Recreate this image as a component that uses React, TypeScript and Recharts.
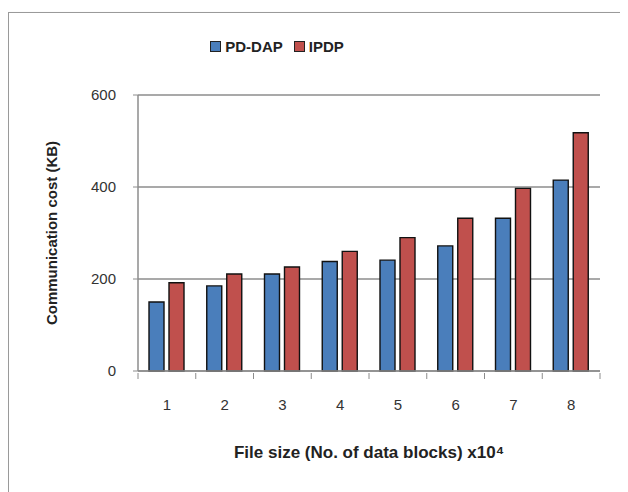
import { Bar, BarChart, CartesianGrid, Label, Legend, XAxis, YAxis } from "recharts";

const fileSizes = ["1", "2", "3", "4", "5", "6", "7", "8"];
const pdDap = [150, 185, 211, 238, 241, 272, 332, 415];
const ipdp = [192, 211, 226, 260, 290, 332, 397, 518];
const yTicks = [0, 200, 400, 600];
const seriesOrder = ["PD-DAP", "IPDP"];

const data = fileSizes.map((name, i) => ({
  name,
  pdDap: pdDap[i],
  ipdp: ipdp[i],
}));

const BLUE = "#4a7ebb";
const RED = "#c0504d";
const AXIS = "#8c8c8c";
const FONT = "'Liberation Sans', Arial, sans-serif";

const CHART_W = 620;
const MARGIN_RIGHT = 28;
const Y_WIDTH = 130;
const BAND = (CHART_W - Y_WIDTH - MARGIN_RIGHT) / fileSizes.length;

function LegendBox({ payload }: any) {
  const items = [...(payload || [])].sort(
    (a: any, b: any) => seriesOrder.indexOf(a.value) - seriesOrder.indexOf(b.value)
  );
  return (
    <div
      style={{
        display: "flex",
        justifyContent: "center",
        gap: 11,
        fontFamily: FONT,
        fontWeight: 700,
        fontSize: 15,
        color: "#222",
      }}
    >
      {items.map((p: any) => (
        <div key={p.value} style={{ display: "flex", alignItems: "center", gap: 4 }}>
          <span
            style={{
              display: "inline-block",
              width: 9,
              height: 9,
              background: p.color,
              border: "1px solid #222",
            }}
          />
          <span>{p.value}</span>
        </div>
      ))}
    </div>
  );
}

function CategoryTick({ x, y, payload, index }: any) {
  const left = x - BAND / 2;
  const right = x + BAND / 2;
  return (
    <g>
      <line x1={left} x2={left} y1={y} y2={y + 6} stroke={AXIS} />
      {index === fileSizes.length - 1 && (
        <line x1={right} x2={right} y1={y} y2={y + 6} stroke={AXIS} />
      )}
      <text
        x={x}
        y={y + 37}
        textAnchor="middle"
        fill="#333"
        fontSize={15}
        fontFamily={FONT}
      >
        {payload.value}
      </text>
    </g>
  );
}

export default function App() {
  return (
    <div style={{ width: 620, height: 484, overflow: "hidden", position: "relative" }}>
      <div
        style={{
          position: "absolute",
          left: 0,
          top: 4,
          width: 660,
          height: 520,
          border: "1px solid #9a9a9a",
          boxShadow: "1px 1px 2px #ccc",
        }}
      />
      <div style={{ position: "absolute", left: 0, top: 0 }}>
        <BarChart
          width={CHART_W}
          height={484}
          data={data}
          margin={{ top: 70, right: MARGIN_RIGHT, bottom: 0, left: 0 }}
          barSize={15}
          barGap={5}
        >
          <CartesianGrid vertical={false} stroke={AXIS} strokeWidth={1.5} />
          <XAxis
            dataKey="name"
            height={121}
            axisLine={{ stroke: AXIS, strokeWidth: 1.5 }}
            tickLine={false}
            tickSize={0}
            tick={<CategoryTick />}
            interval={0}
          >
            <Label
              value="File size (No. of data blocks) x10⁴"
              position="insideBottom"
              offset={34}
              style={{ fill: "#222", fontSize: 17, fontWeight: 700, fontFamily: FONT }}
            />
          </XAxis>
          <YAxis
            width={Y_WIDTH}
            domain={[0, 600]}
            ticks={yTicks}
            axisLine={{ stroke: AXIS, strokeWidth: 1.5 }}
            tickLine={{ stroke: AXIS }}
            tickSize={5}
            tickMargin={17}
            tick={{ fill: "#333", fontSize: 15, fontFamily: FONT }}
          >
            <Label
              value="Communication cost (KB)"
              angle={-90}
              position="insideLeft"
              offset={44}
              style={{
                fill: "#222",
                fontSize: 15,
                fontWeight: 700,
                fontFamily: FONT,
                textAnchor: "middle",
              }}
            />
          </YAxis>
          <Legend
            verticalAlign="top"
            content={<LegendBox />}
            wrapperStyle={{ top: 30, left: 0, width: 538 }}
          />
          <Bar
            dataKey="pdDap"
            name="PD-DAP"
            fill={BLUE}
            stroke="#111"
            strokeWidth={1.4}
            isAnimationActive={false}
          />
          <Bar
            dataKey="ipdp"
            name="IPDP"
            fill={RED}
            stroke="#111"
            strokeWidth={1.4}
            isAnimationActive={false}
          />
        </BarChart>
      </div>
    </div>
  );
}
